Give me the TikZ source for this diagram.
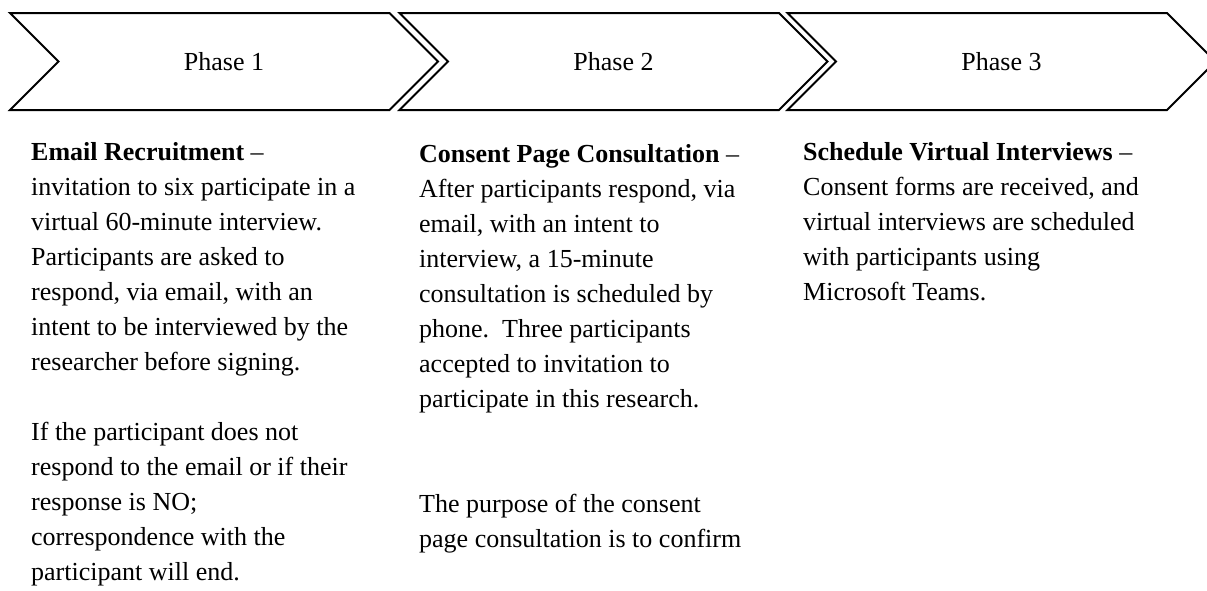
\documentclass[tikz,border=0pt]{standalone}
\usepackage{fontspec}
\setmainfont{Liberation Serif}
\usetikzlibrary{shapes,positioning}

\begin{document}
\begin{tikzpicture}[x=1pt, y=-1pt,
		phase/.style={draw, line width=2pt, signal, signal to=east, signal from=west, minimum width=428pt, minimum height=97pt, inner sep=0pt, font=\fontsize{26}{30}\selectfont},
		column/.style={anchor=base west, align=left, inner sep=0pt, font=\fontsize{26}{35}\selectfont}]
				\clip (0,0) rectangle (1207,590);
				
				% Draw phase arrows
				\node[phase] (phase1) at (224,61.5) {Phase 1};
				\node[phase] (phase2) at (613.5,61.5) {Phase 2};
				\node[phase] (phase3) at (1001.5,61.5) {Phase 3};
				
				% Draw phase descriptions (anchored at the last line)
				\node[column] (text1) at (31,580) {\textbf{Email Recruitment} --\\invitation to six participate in a\\virtual 60-minute interview.\\Participants are asked to\\respond, via email, with an\\intent to be interviewed by the\\researcher before signing.\\[35pt]If the participant does not\\respond to the email or if their\\response is NO;\\correspondence with the\\participant will end.};
				\node[column] (text2) at (419,547) {\textbf{Consent Page Consultation} --\\After participants respond, via\\email, with an intent to\\interview, a 15-minute\\consultation is scheduled by\\phone.\ \ Three participants\\accepted to invitation to\\participate in this research.\\[70pt]The purpose of the consent\\page consultation is to confirm};
				\node[column] (text3) at (803,300) {\textbf{Schedule Virtual Interviews} --\\Consent forms are received, and\\virtual interviews are scheduled\\with participants using\\Microsoft Teams.};
			\end{tikzpicture}
\end{document}
